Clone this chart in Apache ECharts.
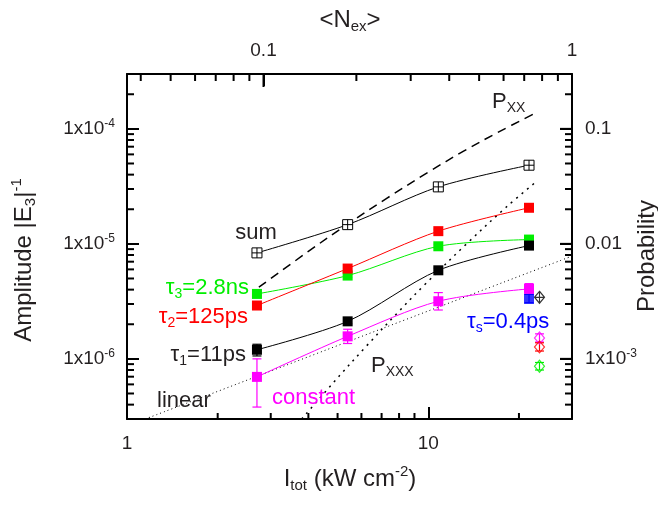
<!DOCTYPE html>
<html>
<head>
<meta charset="utf-8">
<script src="https://cdn.jsdelivr.net/npm/echarts@6/dist/echarts.min.js"></script>
<style>
  html, body { margin: 0; padding: 0; background: #fff; }
  #chart { width: 658px; height: 507px; }
</style>
</head>
<body>
<div id="chart"></div>
<script>
// Excitation intensity (kW cm^-2) of the four measured points
const intensity = [2.7, 5.4, 10.8, 21.6];

// Amplitudes |E3|^-1 for each decay component and their sum
const sumAmp   = [8.35e-6, 1.47e-5, 3.13e-5, 4.83e-5];
const tau3Amp  = [3.67e-6, 5.30e-6, 9.53e-6, 1.09e-5];
const tau2Amp  = [2.91e-6, 6.10e-6, 1.29e-5, 2.06e-5];
const tau1Amp  = [1.20e-6, 2.12e-6, 5.89e-6, 9.66e-6];
const constAmp = [6.97e-7, 1.57e-6, 3.17e-6, 4.06e-6];

// Error ranges (low / high)
const tau3Lo  = [3.52e-6, 5.10e-6, 9.15e-6, 1.04e-5];
const tau3Hi  = [3.82e-6, 5.50e-6, 9.90e-6, 1.14e-5];
const tau2Lo  = [2.80e-6, 5.85e-6, 1.24e-5, 1.97e-5];
const tau2Hi  = [3.02e-6, 6.35e-6, 1.34e-5, 2.16e-5];
const tau1Lo  = [1.06e-6, 2.02e-6, 5.65e-6, 9.35e-6];
const tau1Hi  = [1.34e-6, 2.22e-6, 6.15e-6, 1.00e-5];
const constLo = [3.81e-7, 1.36e-6, 2.66e-6, 3.64e-6];
const constHi = [1.00e-6, 1.81e-6, 3.77e-6, 4.51e-6];

// Fast component, only resolved at the highest intensity
const fastI   = [21.6];
const fastAmp = [3.32e-6];
const fastLo  = [3.08e-6];
const fastHi  = [3.64e-6];

// Open symbols, slightly offset in intensity
const offI        = [23.4];
const offTotal    = [3.43e-6];
const offConst    = [1.52e-6];
const offConstLo  = [1.40e-6];
const offConstHi  = [1.65e-6];
const offTau2     = [1.27e-6];
const offTau2Lo   = [1.17e-6];
const offTau2Hi   = [1.38e-6];
const offTau3     = [8.63e-7];
const offTau3Lo   = [8.00e-7];
const offTau3Hi   = [9.30e-7];

// Reference curves
const pxxI    = [2.74, 4.0, 5.37, 7.3, 10, 13.1, 17, 22.3];
const pxxAmp  = [4.2e-6, 8.6e-6, 1.47e-5, 2.5e-5, 4.2e-5, 6.4e-5, 9.3e-5, 1.34e-4];
const pxxxI   = [3.8, 5.09, 6.16, 8, 9.63, 13.4, 18.2, 22.9];
const pxxxAmp = [3.0e-7, 7.2e-7, 1.25e-6, 2.6e-6, 4.3e-6, 1.0e-5, 2.1e-5, 3.5e-5];
const linI    = [1.15, 30];
const linAmp  = [3.0e-7, 7.83e-6];

// Axis ranges
const I_MIN = 1, I_MAX = 30;
const N_MIN = 0.0361, N_MAX = 1;
const A_MIN = 3e-7, A_MAX = 3e-4;
const P_MIN = 3e-4, P_MAX = 0.3;

// Tick values on each side of the frame
const bottomMajor = [10];
const bottomMinor = [2, 3, 4, 5, 6, 7, 8, 9, 20];
const topMajor    = [0.1];
const topMinor    = [0.04, 0.05, 0.06, 0.07, 0.08, 0.09, 0.2, 0.3, 0.4, 0.5, 0.6, 0.7, 0.8, 0.9];
const leftMajor   = [1e-6, 1e-5, 1e-4];
const leftMinor   = [4e-7, 5e-7, 6e-7, 7e-7, 8e-7, 9e-7,
                     2e-6, 3e-6, 4e-6, 5e-6, 6e-6, 7e-6, 8e-6, 9e-6,
                     2e-5, 3e-5, 4e-5, 5e-5, 6e-5, 7e-5, 8e-5, 9e-5, 2e-4];
const rightMajor  = [1e-3, 1e-2, 1e-1];
const rightMinor  = [4e-4, 5e-4, 6e-4, 7e-4, 8e-4, 9e-4,
                     2e-3, 3e-3, 4e-3, 5e-3, 6e-3, 7e-3, 8e-3, 9e-3,
                     2e-2, 3e-2, 4e-2, 5e-2, 6e-2, 7e-2, 8e-2, 9e-2, 0.2];

const FONT = "'Liberation Sans', Arial, Helvetica, sans-serif";
const INK = '#231f20';
const RED = '#ff0000', GREEN = '#00ee00', MAGENTA = '#ff00ff', BLUE = '#0000ff';
const TICK_W = 2;

const pairs = (xs, ys) => xs.map((x, i) => [x, ys[i]]);
const isDecade = v => { const e = Math.log10(v); return Math.abs(e - Math.round(e)) < 1e-6; };

const labelRich = {
  m: { fontSize: 19, lineHeight: 22, color: INK, fontFamily: FONT },
  s: { fontSize: 12, lineHeight: 12, verticalAlign: 'top', color: INK, fontFamily: FONT }
};

function frameAxis(extra) {
  return Object.assign({
    type: 'log',
    axisLine: { show: true, lineStyle: { color: '#000', width: 2 } },
    axisTick: { show: true, inside: true, length: 12, lineStyle: { color: '#000', width: TICK_W } },
    splitLine: { show: false }
  }, extra);
}

// Inward tick marks on the bottom and left edges (axes 0)
function edgeTicks(side, values, len) {
  return {
    type: 'custom',
    data: values.map(v => side === 'bottom' ? [v, 1e-5] : [5, v]),
    encode: { x: 0, y: 1 },
    renderItem(params, api) {
      const a = side === 'bottom'
        ? api.coord([api.value(0), A_MIN])
        : api.coord([I_MIN, api.value(1)]);
      const dx = side === 'left' ? len : 0;
      const dy = side === 'bottom' ? -len : 0;
      return {
        type: 'group',
        children: [
          { type: 'line', shape: { x1: a[0], y1: a[1], x2: a[0] + dx, y2: a[1] + dy },
            style: { stroke: '#000', lineWidth: TICK_W } }
        ]
      };
    }
  };
}

function errorBars(xs, lo, hi, color) {
  return {
    type: 'custom', z: 3,
    data: xs.map((x, i) => [x, lo[i], hi[i]]),
    encode: { x: 0, y: [1, 2] },
    renderItem(params, api) {
      const x = api.value(0);
      const a = api.coord([x, api.value(1)]);
      const b = api.coord([x, api.value(2)]);
      const h = 4.5;
      const st = { stroke: color, lineWidth: 1.2 };
      return {
        type: 'group',
        children: [
          { type: 'line', shape: { x1: a[0], y1: a[1], x2: b[0], y2: b[1] }, style: st },
          { type: 'line', shape: { x1: a[0] - h, y1: a[1], x2: a[0] + h, y2: a[1] }, style: st },
          { type: 'line', shape: { x1: b[0] - h, y1: b[1], x2: b[0] + h, y2: b[1] }, style: st }
        ]
      };
    }
  };
}

function fitSeries(name, ys, color, symbol, fill) {
  return {
    name, type: 'line', z: 4,
    data: pairs(intensity, ys),
    smooth: 0.3,
    symbol, symbolSize: 10, showSymbol: true,
    lineStyle: { color, width: 1 },
    itemStyle: { color: fill || color, borderColor: color, borderWidth: fill ? 1 : 0 }
  };
}

function curve(xs, ys, dash, width) {
  return {
    type: 'line', z: 2, data: pairs(xs, ys), smooth: 0.35, symbol: 'none',
    lineStyle: { color: '#000', width, type: dash }
  };
}

function openMarker(xs, ys, color, symbol) {
  return {
    type: 'scatter', z: 5, data: pairs(xs, ys),
    symbol, symbolSize: [10, 12],
    itemStyle: { color: 'rgba(255,255,255,0)', borderColor: color, borderWidth: 1.2 }
  };
}

function text(x, y, content, rich, opts) {
  return Object.assign({
    type: 'text', x, y, silent: true, z: 20,
    style: Object.assign({
      text: content, rich, fill: INK,
      font: '22px ' + FONT,
      align: 'left', verticalAlign: 'middle',
      textAlign: 'left', textVerticalAlign: 'middle'
    }, opts && opts.style)
  }, opts && opts.el);
}

function annRich(color, size) {
  size = size || 22;
  return {
    a: { fill: color, fontSize: size, fontFamily: FONT, lineHeight: 26 },
    b: { fill: color, fontSize: Math.round(size * 0.62), fontFamily: FONT, lineHeight: 11, verticalAlign: 'bottom' }
  };
}

function titleRich() {
  return {
    i: { fill: INK, fontSize: 24, fontFamily: FONT, lineHeight: 29 },
    s: { fill: INK, fontSize: 15, fontFamily: FONT, lineHeight: 13, verticalAlign: 'bottom' },
    p: { fill: INK, fontSize: 15, fontFamily: FONT, lineHeight: 14, verticalAlign: 'top' }
  };
}

const chart = echarts.init(document.getElementById('chart'));

chart.setOption({
  animation: false,
  grid: { left: 127, right: 86, top: 74, bottom: 88 },
  xAxis: [
    frameAxis({
      min: I_MIN, max: I_MAX,
      axisLabel: {
        margin: 15, color: INK, fontSize: 19, fontFamily: FONT,
        formatter: v => isDecade(v) ? String(Math.round(v)) : ''
      }
    }),
    frameAxis({
      min: N_MIN, max: N_MAX, position: 'top',
      axisLabel: {
        margin: 14, color: INK, fontSize: 19, fontFamily: FONT,
        formatter: v => isDecade(v) ? (v >= 1 ? '1' : '0.1') : ''
      }
    })
  ],
  yAxis: [
    frameAxis({
      min: A_MIN, max: A_MAX,
      axisLabel: {
        margin: 12, rich: labelRich,
        formatter: v => isDecade(v) ? '{m|1x10}{s|' + Math.round(Math.log10(v)) + '}' : ''
      }
    }),
    frameAxis({
      min: P_MIN, max: P_MAX, position: 'right',
      axisLabel: {
        margin: 13, rich: labelRich,
        formatter: v => {
          if (!isDecade(v)) return '';
          const e = Math.round(Math.log10(v));
          if (e === -1) return '{m|0.1}';
          if (e === -2) return '{m|0.01}';
          return '{m|1x10}{s|' + e + '}';
        }
      }
    })
  ],
  series: [
    curve(linI, linAmp, [1, 3], 1),
    curve(pxxxI, pxxxAmp, [2, 5], 1.5),
    curve(pxxI, pxxAmp, [9, 6], 1.5),

    errorBars(intensity, tau3Lo, tau3Hi, GREEN),
    errorBars(intensity, tau2Lo, tau2Hi, RED),
    errorBars(intensity, tau1Lo, tau1Hi, '#000'),
    errorBars(intensity, constLo, constHi, MAGENTA),
    errorBars(fastI, fastLo, fastHi, BLUE),
    errorBars(offI, offConstLo, offConstHi, MAGENTA),
    errorBars(offI, offTau2Lo, offTau2Hi, RED),
    errorBars(offI, offTau3Lo, offTau3Hi, GREEN),

    fitSeries('sum', sumAmp, '#000', 'path://M0,0L10,0L10,10L0,10Z M5,0L5,10 M0,5L10,5', '#fff'),
    fitSeries('tau3', tau3Amp, GREEN, 'rect'),
    fitSeries('tau2', tau2Amp, RED, 'rect'),
    fitSeries('tau1', tau1Amp, '#000', 'rect'),
    fitSeries('constant', constAmp, MAGENTA, 'rect'),

    {
      name: 'taus', type: 'scatter', z: 5, data: pairs(fastI, fastAmp),
      symbol: 'rect', symbolSize: 10, itemStyle: { color: BLUE }
    },
    openMarker(offI, offTotal, '#000', 'path://M5,0L10,6L5,12L0,6Z M5,0L5,12 M0,6L10,6'),
    openMarker(offI, offConst, MAGENTA, 'diamond'),
    openMarker(offI, offTau2, RED, 'diamond'),
    openMarker(offI, offTau3, GREEN, 'diamond'),

    edgeTicks('bottom', bottomMinor, 6),
    edgeTicks('left', leftMinor, 7)
  ]
});

// Top and right frame ticks: every value goes through its own axis to a pixel position
function px(finder, v) {
  try { return chart.convertToPixel(finder, v); } catch (e) { return NaN; }
}
const frameRight = px({ xAxisIndex: 0 }, I_MAX);
const frameTop   = px({ yAxisIndex: 0 }, A_MAX);

function tickLines(side, values, len) {
  const els = [];
  values.forEach(v => {
    let x1, y1, x2, y2;
    if (side === 'top') {
      const x = px({ xAxisIndex: 1 }, v);
      x1 = x2 = x; y1 = frameTop; y2 = frameTop + len;
    } else {
      const y = px({ yAxisIndex: 1 }, v);
      y1 = y2 = y; x1 = frameRight; x2 = frameRight - len;
    }
    if ([x1, y1, x2, y2].every(isFinite)) {
      els.push({ type: 'line', shape: { x1, y1, x2, y2 }, style: { stroke: '#000', lineWidth: TICK_W } });
    }
  });
  return els;
}

const tickEls = [].concat(
  tickLines('top', topMajor, 13), tickLines('top', topMinor, 7),
  tickLines('right', rightMajor, 12), tickLines('right', rightMinor, 7)
);

const textEls = [
  // axis titles
  text(350, 20, '{i|<N}{s|ex}{i|>}', titleRich(), { style: { align: 'center', textAlign: 'center' } }),
  text(350, 479, '{i|I}{s|tot}{i| (kW cm}{p|-2}{i|)}', titleRich(), { style: { align: 'center', textAlign: 'center' } }),
  text(24, 260, '{i|Amplitude |E}{s|3}{i||}{p|-1}', titleRich(),
    { style: { align: 'center', textAlign: 'center' }, el: { rotation: Math.PI / 2 } }),
  text(647, 256, '{i|Probability}', titleRich(),
    { style: { align: 'center', textAlign: 'center' }, el: { rotation: Math.PI / 2 } }),

  // curve and component labels
  text(256, 233, '{a|sum}', annRich(INK), { style: { align: 'center', textAlign: 'center' } }),
  text(249, 288, '{a|τ}{b|3}{a|=2.8ns}', annRich(GREEN), { style: { align: 'right', textAlign: 'right' } }),
  text(248, 317, '{a|τ}{b|2}{a|=125ps}', annRich(RED), { style: { align: 'right', textAlign: 'right' } }),
  text(246, 355, '{a|τ}{b|1}{a|=11ps}', annRich(INK), { style: { align: 'right', textAlign: 'right' } }),
  text(157, 401, '{a|linear}', annRich(INK)),
  text(272, 398, '{a|constant}', annRich(MAGENTA)),
  text(371, 366, '{a|P}{b|XXX}', annRich(INK)),
  text(492, 102, '{a|P}{b|XX}', annRich(INK)),
  text(467, 322, '{a|τ}{b|s}{a|=0.4ps}', annRich(BLUE))
];

chart.setOption({ graphic: tickEls.concat(textEls) });
</script>
</body>
</html>
